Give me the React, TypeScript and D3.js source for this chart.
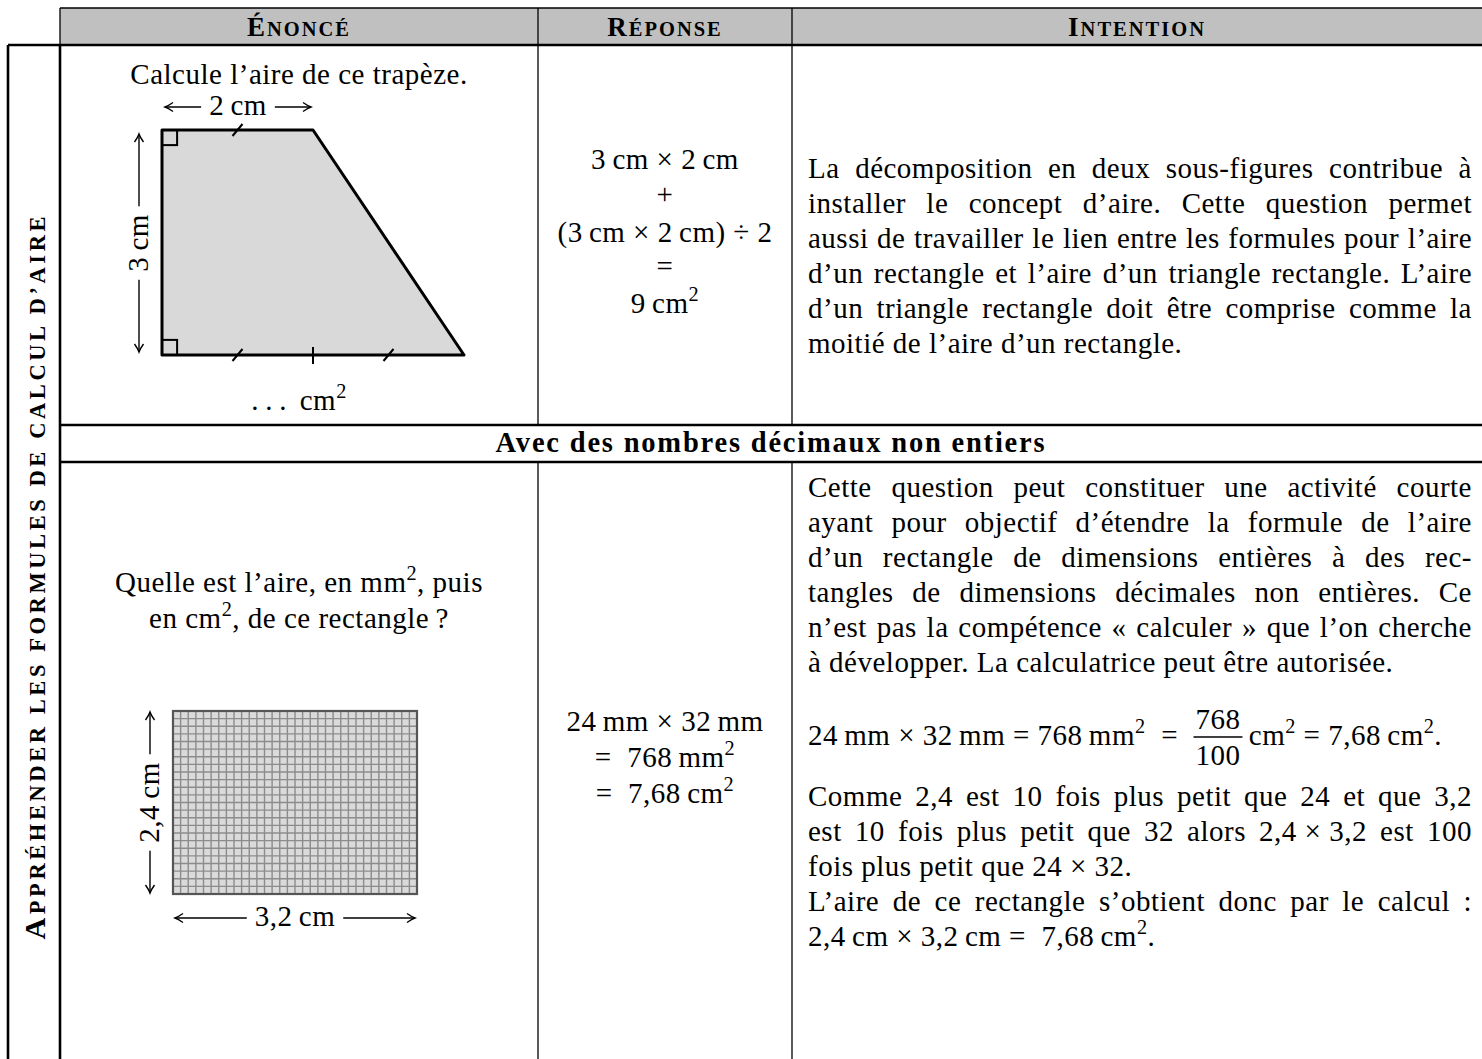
import React, { useEffect, useRef } from "react";
import * as d3 from "d3";

const WIDTH = 1482;
const HEIGHT = 1059;
const SERIF = "'Liberation Serif', 'Times New Roman', serif";
const FS = 29;
const TH = "\u2009"; // espace fine (unités)
const MS = "\u2005"; // espace autour des opérateurs

// structure du tableau
const headers = ["Énoncé", "Réponse", "Intention"];
const colX = [60, 538, 792, 1482];
const rowY = [45, 425, 462, 1059];
const sideTitle = "Appréhender les formules de calcul d’aire";
const sectionTitle = "Avec des nombres décimaux non entiers";

// énoncé 1 : le trapèze (en cm)
const question1 = "Calcule l’aire de ce trapèze.";
const trapezeCm = [[0, 0], [2, 0], [4, 3], [0, 3]];
const bottomTicksCm = [1, 2, 3];
const trapezeLabels = [`2${TH}cm`, `3${TH}cm`, `.${TH}.${TH}.${TH}${TH}cm^2`];

// énoncé 2 : le rectangle quadrillé (en mm)
const question2 = [`Quelle est l’aire, en mm^2, puis`, `en cm^2, de ce rectangle${TH}?`];
const rectMm = [32, 24];
const rectLabels = [`3,2${TH}cm`, `2,4${TH}cm`];

// réponses
const reponse1 = [`3${TH}cm${MS}×${MS}2${TH}cm`, "+", `(3${TH}cm${MS}×${MS}2${TH}cm)${MS}÷${MS}2`, "=", `9${TH}cm^2`];
const reponse1Y = [169, 204, 242, 276, 313];
const reponse2 = [`24${TH}mm${MS}×${MS}32${TH}mm`, `=${MS}${MS}768${TH}mm^2`, `=${MS}${MS}7,68${TH}cm^2`];
const reponse2Y = [731, 767, 803];

// intentions
const intention1 = [
  "La décomposition en deux sous-figures contribue à",
  "installer le concept d’aire. Cette question permet",
  "aussi de travailler le lien entre les formules pour l’aire",
  "d’un rectangle et l’aire d’un triangle rectangle. L’aire",
  "d’un triangle rectangle doit être comprise comme la",
  "moitié de l’aire d’un rectangle.",
];
const intention2 = [
  "Cette question peut constituer une activité courte",
  "ayant pour objectif d’étendre la formule de l’aire",
  "d’un rectangle de dimensions entières à des rec-",
  "tangles de dimensions décimales non entières. Ce",
  "n’est pas la compétence « calculer » que l’on cherche",
  "à développer. La calculatrice peut être autorisée.",
];
const fraction = {
  before: `24${TH}mm${MS}×${MS}32${TH}mm${MS}=${MS}768${TH}mm^2${MS}${MS}=${MS}${MS}`,
  num: "768",
  den: "100",
  after: `${TH}cm^2${MS}=${MS}7,68${TH}cm^2.`,
};
const intention3 = [
  "Comme 2,4 est 10 fois plus petit que 24 et que 3,2",
  `est 10 fois plus petit que 32 alors 2,4${MS}×${MS}3,2 est 100`,
  `fois plus petit que 24${MS}×${MS}32.`,
];
const intention4 = [
  "L’aire de ce rectangle s’obtient donc par le calcul :",
  `2,4${TH}cm${MS}×${MS}3,2${TH}cm${MS}=${MS}${MS}7,68${TH}cm^2.`,
];

const App = () => {
  const svgRef = useRef<SVGSVGElement>(null);

  useEffect(() => {
    const svg = d3.select(svgRef.current);
    svg.selectAll("*").remove();

    // flèches façon LaTeX
    svg.append("defs").append("marker")
      .attr("id", "tip")
      .attr("markerUnits", "userSpaceOnUse")
      .attr("viewBox", "-10 -6 12 12")
      .attr("refX", 0).attr("refY", 0)
      .attr("markerWidth", 12).attr("markerHeight", 12)
      .attr("orient", "auto")
      .append("path")
      .attr("d", "M -8 -4.5 Q -3 -1 0 0 Q -3 1 -8 4.5")
      .attr("fill", "none").attr("stroke", "#000").attr("stroke-width", 1.4);

    const g = svg.append("g");

    // texte avec exposants "^2"
    const addText = (parent: any, str: string, x: number, y: number, opts: any = {}) => {
      const size = opts.size || FS;
      const t = parent.append("text")
        .attr("x", x).attr("y", y)
        .attr("font-family", SERIF)
        .attr("font-size", size)
        .attr("letter-spacing", opts.ls ?? 0.5)
        .attr("text-anchor", opts.anchor || "start")
        .attr("fill", "#000")
        .style("white-space", "pre");
      if (opts.weight) t.attr("font-weight", opts.weight);
      const parts = str.split("^2");
      let up = false;
      parts.forEach((p, i) => {
        if (p) {
          const s = t.append("tspan").text(p);
          if (up) { s.attr("dy", size * 0.42); up = false; }
        }
        if (i < parts.length - 1) {
          t.append("tspan").attr("font-size", size * 0.7).attr("dy", -size * 0.42).text("2");
          up = true;
        }
      });
      return t;
    };

    const justify = (t: any, width: number) => {
      const natural = t.node().getComputedTextLength();
      const n = (t.text().match(/ /g) || []).length;
      if (!n) return;
      t.style("word-spacing", `${(width - natural) / n}px`);
      const after = t.node().getComputedTextLength();
      if (Math.abs(after - width) > 3) t.style("word-spacing", null).attr("textLength", width).attr("lengthAdjust", "spacing");
    };

    const smallCaps = (parent: any, str: string, x: number, y: number, big: number, small: number, ls: number) => {
      const t = parent.append("text")
        .attr("x", x).attr("y", y)
        .attr("font-family", SERIF)
        .attr("font-weight", "bold")
        .attr("text-anchor", "middle")
        .attr("letter-spacing", ls)
        .style("white-space", "pre");
      str.split(" ").forEach((w, i) => {
        if (i > 0) t.append("tspan").attr("font-size", small).text(" ");
        const first = w[0];
        const isUpper = first === first.toUpperCase();
        t.append("tspan").attr("font-size", isUpper ? big : small).text(first.toUpperCase());
        t.append("tspan").attr("font-size", small).text(w.slice(1).toUpperCase());
      });
      return t;
    };

    const dimension = (x1: number, y1: number, x2: number, y2: number, label: string, vertical: boolean) => {
      const mx = (x1 + x2) / 2;
      const my = (y1 + y2) / 2;
      const t = vertical
        ? addText(g, label, 0, 0, { anchor: "middle" }).attr("transform", `translate(${mx + 9},${my}) rotate(-90)`)
        : addText(g, label, mx, my + 8, { anchor: "middle" });
      const half = t.node().getComputedTextLength() / 2 + 8;
      const segs = vertical
        ? [[mx, my - half, mx, y1], [mx, my + half, mx, y2]]
        : [[mx - half, my, x1, my], [mx + half, my, x2, my]];
      segs.forEach(([a, b, c, d]) => {
        g.append("line").attr("x1", a).attr("y1", b).attr("x2", c).attr("y2", d)
          .attr("stroke", "#000").attr("stroke-width", 1.4).attr("marker-end", "url(#tip)");
      });
    };

    // --- en-tête grisé
    g.append("rect").attr("x", colX[0]).attr("y", 8).attr("width", colX[3] - colX[0]).attr("height", rowY[0] - 8).attr("fill", "#c0c0c0");
    headers.forEach((h, i) => smallCaps(g, h, (colX[i] + colX[i + 1]) / 2, 36, 27, 20.5, 2));

    // --- traits du tableau
    const line = (x1: number, y1: number, x2: number, y2: number, w: number) =>
      g.append("line").attr("x1", x1).attr("y1", y1).attr("x2", x2).attr("y2", y2).attr("stroke", "#000").attr("stroke-width", w);
    line(colX[0], 8, WIDTH, 8, 1.3);
    colX.slice(0, 3).forEach((x) => line(x, 8, x, rowY[0], 1.3));
    line(8, rowY[0], WIDTH, rowY[0], 2.6);
    line(8, rowY[0], 8, HEIGHT, 2.6);
    line(colX[0], rowY[0], colX[0], HEIGHT, 2.6);
    line(colX[0], rowY[1], WIDTH, rowY[1], 2.6);
    line(colX[0], rowY[2], WIDTH, rowY[2], 2.6);
    colX.slice(1, 3).forEach((x) => {
      line(x, rowY[0], x, rowY[1], 1.3);
      line(x, rowY[2], x, rowY[3], 1.3);
    });

    // --- titre vertical
    smallCaps(g, sideTitle, 0, 0, 30, 22.5, 2)
      .attr("transform", `translate(45,577) rotate(-90)`)
      .attr("textLength", 725).attr("lengthAdjust", "spacing");

    // --- titre de section
    addText(g, sectionTitle, (colX[0] + colX[3]) / 2, 452, { anchor: "middle", weight: "bold", size: 28.5, ls: 1.8 });

    // --- énoncé 1
    const c1 = (colX[0] + colX[1]) / 2;
    addText(g, question1, c1, 84, { anchor: "middle" });
    const xCm = d3.scaleLinear().domain([0, 4]).range([162, 464]);
    const yCm = d3.scaleLinear().domain([0, 3]).range([130, 355]);
    g.append("path")
      .attr("d", d3.line()(trapezeCm.map(([a, b]) => [xCm(a), yCm(b)] as [number, number])) + "Z")
      .attr("fill", "#d9d9d9").attr("stroke", "#000").attr("stroke-width", 3).attr("stroke-linejoin", "round");
    const sq = xCm(0.2) - xCm(0);
    [0, 3].forEach((b) => {
      g.append("rect").attr("x", xCm(0)).attr("y", b === 0 ? yCm(0) : yCm(3) - sq)
        .attr("width", sq).attr("height", sq).attr("fill", "none").attr("stroke", "#000").attr("stroke-width", 2);
    });
    const slash = (x: number, y: number) =>
      g.append("line").attr("x1", x - 5).attr("y1", y + 6).attr("x2", x + 5).attr("y2", y - 6).attr("stroke", "#000").attr("stroke-width", 2);
    slash(xCm(1), yCm(0));
    bottomTicksCm.forEach((c) => {
      if (c === 2) line(xCm(c), yCm(3) - 8, xCm(c), yCm(3) + 9, 2);
      else slash(xCm(c), yCm(3));
    });
    dimension(xCm(0) + 3, 107, xCm(2) - 2, 107, trapezeLabels[0], false);
    dimension(139, yCm(0) + 4, 139, yCm(3) - 3, trapezeLabels[1], true);
    addText(g, trapezeLabels[2], c1, 410, { anchor: "middle" });

    // --- énoncé 2
    question2.forEach((q, i) => addText(g, q, c1, 592 + i * 36, { anchor: "middle" }));
    const xMm = d3.scaleLinear().domain([0, rectMm[0]]).range([173, 417]);
    const yMm = d3.scaleLinear().domain([0, rectMm[1]]).range([711, 894]);
    g.append("rect").attr("x", xMm(0)).attr("y", yMm(0))
      .attr("width", xMm(rectMm[0]) - xMm(0)).attr("height", yMm(rectMm[1]) - yMm(0)).attr("fill", "#dadada");
    const grid = g.append("g").attr("stroke", "#8c8c8c").attr("stroke-width", 1.4);
    d3.range(1, rectMm[0]).forEach((m) =>
      grid.append("line").attr("x1", xMm(m)).attr("x2", xMm(m)).attr("y1", yMm(0)).attr("y2", yMm(rectMm[1])));
    d3.range(1, rectMm[1]).forEach((m) =>
      grid.append("line").attr("y1", yMm(m)).attr("y2", yMm(m)).attr("x1", xMm(0)).attr("x2", xMm(rectMm[0])));
    g.append("rect").attr("x", xMm(0)).attr("y", yMm(0))
      .attr("width", xMm(rectMm[0]) - xMm(0)).attr("height", yMm(rectMm[1]) - yMm(0))
      .attr("fill", "none").attr("stroke", "#555").attr("stroke-width", 2.2);
    dimension(xMm(0) + 2, 918, xMm(rectMm[0]) - 2, 918, rectLabels[0], false);
    dimension(150, yMm(0) + 1, 150, yMm(rectMm[1]) - 1, rectLabels[1], true);

    // --- réponses
    const c2 = (colX[1] + colX[2]) / 2;
    reponse1.forEach((r, i) => addText(g, r, c2, reponse1Y[i], { anchor: "middle" }));
    reponse2.forEach((r, i) => addText(g, r, c2, reponse2Y[i], { anchor: "middle" }));

    // --- intentions
    const left = colX[2] + 16;
    const right = WIDTH - 10;
    const paragraph = (lines: string[], y0: number, step: number, justifyLast = false) => {
      lines.forEach((l, i) => {
        const t = addText(g, l, left, y0 + i * step);
        if (i < lines.length - 1 || justifyLast) justify(t, right - left);
      });
    };
    paragraph(intention1, 178, 35);
    paragraph(intention2, 497, 35);

    // ligne avec la fraction
    const fy = 745;
    const before = addText(g, fraction.before, left, fy);
    const bx = left + before.node().getComputedTextLength();
    const num = addText(g, fraction.num, 0, fy - 16, { anchor: "middle" });
    const den = addText(g, fraction.den, 0, fy + 20, { anchor: "middle" });
    const fw = Math.max(num.node().getComputedTextLength(), den.node().getComputedTextLength()) + 4;
    num.attr("x", bx + fw / 2);
    den.attr("x", bx + fw / 2);
    line(bx, fy - 8, bx + fw, fy - 8, 1.5);
    addText(g, fraction.after, bx + fw, fy);

    paragraph(intention3, 806, 35);
    paragraph(intention4, 911, 35);
  }, []);

  return (
    <svg
      ref={svgRef}
      width={WIDTH}
      height={HEIGHT}
      style={{ position: "absolute", left: 0, top: 0, background: "#fff" }}
    />
  );
};

export default App;
